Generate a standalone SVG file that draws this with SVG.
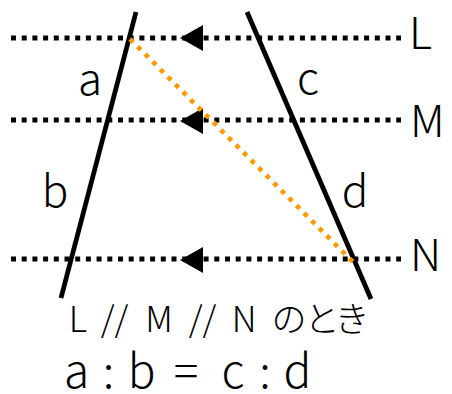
<svg xmlns="http://www.w3.org/2000/svg" xmlns:xlink="http://www.w3.org/1999/xlink" width="452" height="394" viewBox="0 0 452 394">
  <style>
    .par { stroke: #000; stroke-width: 5; stroke-dasharray: 5 5.7; fill: none; }
    .trans { stroke: #000; stroke-width: 4.8; fill: none; stroke-linecap: butt; }
    .diag { stroke: #FF9900; stroke-width: 4.6; stroke-dasharray: 4.6 6.1; fill: none; }
    .lbl { font-family: "Noto Sans CJK JP", "Liberation Sans", sans-serif; font-weight: 300; font-size: 44px; fill: #000; }
    .cap1 { font-family: "Noto Sans CJK JP", "Liberation Sans", sans-serif; font-weight: 300; font-size: 35px; fill: #000; }
    .cap2 { font-family: "Noto Sans CJK JP", "Liberation Sans", sans-serif; font-weight: 300; font-size: 46px; fill: #000; text-anchor: middle; }
    .mid { text-anchor: middle; }
  </style>
  <defs>
    <path id="arrow" d="M0,0 L23,-13 L23,13 Z" fill="#000"/>
  </defs>
  <rect width="452" height="394" fill="#fff"/>

  <g id="connectors">
    <g id="line-L"><line class="par" x1="11" y1="38" x2="401" y2="38"/><use xlink:href="#arrow" x="180" y="38"/></g>
    <g id="line-M"><line class="par" x1="11" y1="120" x2="401" y2="120"/><use xlink:href="#arrow" x="180" y="121"/></g>
    <g id="line-N"><line class="par" x1="11" y1="259" x2="401" y2="259"/><use xlink:href="#arrow" x="180" y="260"/></g>
    <line id="left-transversal" class="trans" x1="136" y1="12" x2="61" y2="298"/>
    <line id="right-transversal" class="trans" x1="247" y1="12" x2="371" y2="299"/>
    <line id="diagonal" class="diag" x1="130" y1="39" x2="353" y2="262"/>
  </g>

  <g id="label-L"><text class="lbl" x="409" y="49">L</text></g>
  <g id="label-M"><text class="lbl" x="410" y="137">M</text></g>
  <g id="label-N"><text class="lbl" x="410" y="271">N</text></g>
  <g id="label-a"><text class="lbl mid" x="90" y="95">a</text></g>
  <g id="label-c"><text class="lbl mid" x="308" y="94">c</text></g>
  <g id="label-b"><text class="lbl mid" x="55" y="207">b</text></g>
  <g id="label-d"><text class="lbl mid" x="355" y="207">d</text></g>

  <g id="caption-1">
    <text class="cap1" y="332"><tspan x="78" class="mid">L</tspan><tspan x="114.5" class="mid">//</tspan><tspan x="159" class="mid">M</tspan><tspan x="202.5" class="mid">//</tspan><tspan x="244" class="mid">N</tspan><tspan x="289" class="mid">の</tspan><tspan x="322" class="mid">と</tspan><tspan x="352" class="mid">き</tspan></text>
  </g>
  <g id="caption-2">
    <text class="cap2" y="388"><tspan x="76.5">a</tspan><tspan x="108.5">:</tspan><tspan x="141.5">b</tspan><tspan x="186">=</tspan><tspan x="233">c</tspan><tspan x="265">:</tspan><tspan x="297.5">d</tspan></text>
  </g>
</svg>
